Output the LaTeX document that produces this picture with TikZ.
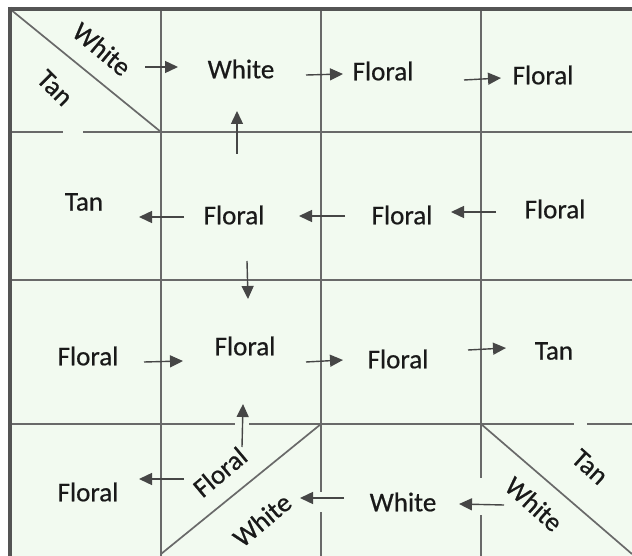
\documentclass[tikz,border=0pt]{standalone}
\usepackage{fontspec}
\setmainfont{Carlito}
\newfontfamily\scanfont{Carlito}[FakeBold=0.6]
\usetikzlibrary{arrows.meta}
\definecolor{bgmint}{RGB}{242,250,240}
\definecolor{gridgray}{RGB}{105,105,105}
\definecolor{arrowgray}{RGB}{70,70,70}
\definecolor{txt}{RGB}{25,25,25}
\tikzset{
  gridline/.style={draw=gridgray, line width=1.5pt},
  borderline/.style={draw=gridgray!80!black, line width=4pt},
  diagline/.style={draw=gridgray, line width=1.7pt},
  lbl/.style={inner sep=0pt, text=txt, font=\scanfont\fontsize{27}{30}\selectfont},
  flow/.style={draw=arrowgray, line width=1.4pt, -{Triangle[length=13pt,width=12pt]}},
}
\begin{document}
\begin{tikzpicture}[x=1pt,y=-1pt]
\useasboundingbox (0,0) rectangle (632,556);
\fill[bgmint] (8,7) rectangle (632,556);
% grid
\draw[gridline] (161,9) -- (161,556);
\draw[gridline] (321,9) -- (321,492) (321,512) -- (321,556);
\draw[gridline] (481,9) -- (481,478) (481,515) -- (481,556);
\draw[gridline] (10,132) -- (63,132) (83,132) -- (632,132);
\draw[gridline] (10,280) -- (632,280);
\draw[gridline] (10,424) -- (235,424) (249,424) -- (574,424) (587,424) -- (632,424);
\draw[diagline] (10,9) -- (161,132);
\draw[diagline] (321,424) -- (161,554);
\draw[diagline] (481,424) -- (632,554);
\draw[borderline] (8,9) -- (632,9);
\draw[borderline] (10,7) -- (10,556);
% labels
\node[lbl, rotate=-40] (w0) at (102,49) {White};
\node[lbl, rotate=-45] (t0) at (55,88) {Tan};
\node[lbl] (a1) at (241,69) {White};
\node[lbl] (a2) at (383,71) {Floral};
\node[lbl] (a3) at (543,75) {Floral};
\node[lbl] (b0) at (84,202) {Tan};
\node[lbl] (b1) at (234,215) {Floral};
\node[lbl] (b2) at (402,215) {Floral};
\node[lbl] (b3) at (555,209) {Floral};
\node[lbl] (c0) at (88,356) {Floral};
\node[lbl] (c1) at (245,346) {Floral};
\node[lbl] (c2) at (398,359) {Floral};
\node[lbl] (c3) at (554,351) {Tan};
\node[lbl] (d0) at (88,492) {Floral};
\node[lbl, rotate=40] (d1f) at (220,472) {Floral};
\node[lbl, rotate=40] (d1w) at (262,520) {White};
\node[lbl] (d2) at (403,502) {White};
\node[lbl, rotate=-42] (d3w) at (534,504) {White};
\node[lbl, rotate=-42] (d3t) at (590,467) {Tan};
% arrow end points
\coordinate (p1s) at (145,67);  \coordinate (p1e) at (178,67);
\coordinate (p2s) at (237,154); \coordinate (p2e) at (237,111);
\coordinate (p3s) at (306,75);  \coordinate (p3e) at (343,74);
\coordinate (p4s) at (464,80);  \coordinate (p4e) at (501,78);
\coordinate (p5s) at (184,217); \coordinate (p5e) at (139,217);
\coordinate (p6s) at (345,216); \coordinate (p6e) at (299,216);
\coordinate (p7s) at (496,212); \coordinate (p7e) at (451,212);
\coordinate (p8s) at (247,261); \coordinate (p8e) at (248,299);
\coordinate (p9s) at (144,362); \coordinate (p9e) at (183,361);
\coordinate (p10s) at (306,362); \coordinate (p10e) at (343,360);
\coordinate (p11s) at (468,350); \coordinate (p11e) at (506,348);
\coordinate (p12s) at (242,447); \coordinate (p12e) at (243,404);
\coordinate (p13s) at (184,479); \coordinate (p13e) at (139,479);
\coordinate (p14s) at (344,498); \coordinate (p14e) at (300,498);
\coordinate (p15s) at (504,505); \coordinate (p15e) at (459,504);
\foreach \i in {1,...,15} { \draw[flow] (p\i s) -- (p\i e); }
\end{tikzpicture}
\end{document}
